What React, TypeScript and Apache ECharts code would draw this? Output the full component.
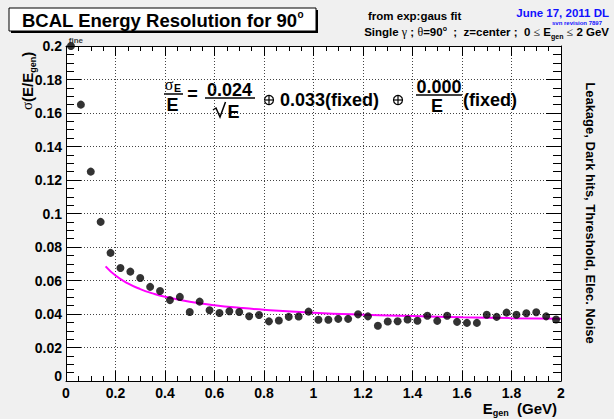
import React, { useEffect, useRef } from 'react';
import * as echarts from 'echarts';

// Generated photon energies (GeV) and the fitted resolution sigma(E/E_gen) at each.
const energies = [
  0.02, 0.06, 0.1, 0.14, 0.18, 0.22, 0.26, 0.3, 0.34, 0.38,
  0.42, 0.46, 0.5, 0.54, 0.58, 0.62, 0.66, 0.7, 0.74, 0.78,
  0.82, 0.86, 0.9, 0.94, 0.98, 1.02, 1.06, 1.1, 1.14, 1.18,
  1.22, 1.26, 1.3, 1.34, 1.38, 1.42, 1.46, 1.5, 1.54, 1.58,
  1.62, 1.66, 1.7, 1.74, 1.78, 1.82, 1.86, 1.9, 1.94, 1.98,
];
const sigmas = [
  0.2, 0.165, 0.125, 0.095, 0.0765, 0.0675, 0.0653, 0.0615, 0.0562, 0.0537,
  0.0483, 0.0502, 0.0412, 0.0474, 0.0422, 0.0406, 0.0416, 0.0412, 0.0387, 0.0394,
  0.0356, 0.0361, 0.0383, 0.0385, 0.0414, 0.0366, 0.0366, 0.0371, 0.0371, 0.0398,
  0.0386, 0.033, 0.0355, 0.0357, 0.0367, 0.036, 0.039, 0.0359, 0.039, 0.0353,
  0.0347, 0.0347, 0.0396, 0.0383, 0.0408, 0.0396, 0.0404, 0.041, 0.0386, 0.0367,
];
// Label attached to the first point.
const firstPointTag = 'fine';

// Fit parameters: sigma/E = a/sqrt(E) (+) b (+) c/E
const fitStochastic = 0.024;
const fitConstant = 0.033;
const fitNoise = 0.0;
const fitEnergies = [0.16, 0.2, 0.25, 0.3, 0.35, 0.4, 0.5, 0.6, 0.7, 0.8, 1.0, 1.2, 1.4, 1.6, 1.8, 2.0];

const SANS = "'Liberation Sans', Arial, Helvetica, sans-serif";
const SYM = "'Liberation Serif', 'DejaVu Serif', serif";

const fitValue = (e: number) =>
  Math.sqrt(
    Math.pow(fitStochastic / Math.sqrt(e), 2) +
      fitConstant * fitConstant +
      Math.pow(fitNoise / e, 2)
  );

let measureCtx: CanvasRenderingContext2D | null = null;
function textWidth(t: string, size: number, bold: boolean, fam: string) {
  if (!measureCtx) measureCtx = document.createElement('canvas').getContext('2d');
  if (!measureCtx) return t.length * size * 0.55;
  measureCtx.font = `${bold ? 'bold ' : ''}${size}px ${fam}`;
  return measureCtx.measureText(t).width;
}

type Seg = { t: string; size: number; bold?: boolean; fam?: string; dy?: number; color?: string };

// Lays out a run of text pieces (sub/superscripts, symbols) along one baseline.
function textRun(segs: Seg[], x: number, y: number, align: 'left' | 'right' | 'center', color = '#000') {
  const widths = segs.map((s) => textWidth(s.t, s.size, s.bold !== false, s.fam || SANS));
  const total = widths.reduce((a, b) => a + b, 0);
  let cx = align === 'left' ? x : align === 'right' ? x - total : x - total / 2;
  return segs.map((s, i) => {
    const el = {
      type: 'text',
      x: cx,
      y: y + (s.dy || 0),
      silent: true,
      style: {
        text: s.t,
        fontSize: s.size,
        fontWeight: s.bold === false ? 'normal' : 'bold',
        fontFamily: s.fam || SANS,
        fill: s.color || color,
        align: 'left',
        verticalAlign: 'middle',
        textAlign: 'left',
        textVerticalAlign: 'middle',
      },
    };
    cx += widths[i];
    return el;
  });
}

function label(
  t: string,
  x: number,
  y: number,
  size: number,
  align = 'center',
  bold = true,
  fam = SANS,
  color = '#000',
  lineHeight?: number
) {
  return {
    type: 'text',
    x,
    y,
    silent: true,
    style: {
      text: t,
      fontSize: size,
      fontWeight: bold ? 'bold' : 'normal',
      fontFamily: fam,
      fill: color,
      align,
      verticalAlign: 'middle',
      textAlign: align,
      textVerticalAlign: 'middle',
      ...(lineHeight ? { lineHeight } : {}),
    },
  };
}

function hline(x1: number, x2: number, y: number, w = 1.5) {
  return { type: 'line', silent: true, shape: { x1, y1: y, x2, y2: y }, style: { stroke: '#000', lineWidth: w } };
}

function oplus(cx: number, cy: number) {
  const r = 4.5;
  return [
    { type: 'circle', silent: true, shape: { cx, cy, r }, style: { fill: 'none', stroke: '#000', lineWidth: 1.2 } },
    { type: 'line', silent: true, shape: { x1: cx - r, y1: cy, x2: cx + r, y2: cy }, style: { stroke: '#000', lineWidth: 1.2 } },
    { type: 'line', silent: true, shape: { x1: cx, y1: cy - r, x2: cx, y2: cy + r }, style: { stroke: '#000', lineWidth: 1.2 } },
  ];
}

export default function App() {
  const ref = useRef<HTMLDivElement>(null);

  useEffect(() => {
    if (!ref.current) return;
    const chart = echarts.init(ref.current, undefined, { renderer: 'svg' });

    const axisLabelFont = { fontFamily: SANS, fontWeight: 'bold' as const, fontSize: 14, color: '#000' };
    const tickLine = { color: '#000', width: 1 };
    const gridLine = { color: '#444', width: 1, type: [1, 2] as number[] };

    const xCommon = {
      type: 'value' as const,
      min: 0,
      max: 2,
      interval: 0.2,
      axisLine: { show: true, onZero: false, lineStyle: tickLine },
      axisTick: { show: true, inside: true, length: 10, lineStyle: tickLine },
      minorTick: { show: true, splitNumber: 4, length: 5, lineStyle: tickLine },
    };
    const yCommon = {
      type: 'value' as const,
      min: 0,
      max: 0.2,
      interval: 0.02,
      axisLine: { show: true, onZero: false, lineStyle: tickLine },
      axisTick: { show: true, inside: true, length: 15, lineStyle: tickLine },
      minorTick: { show: true, splitNumber: 4, length: 8, lineStyle: tickLine },
    };

    const scatterData = energies.map((e, i) => {
      if (i === 0) {
        return {
          value: [e, sigmas[i]],
          label: {
            show: true,
            formatter: firstPointTag,
            position: 'top',
            distance: 0,
            offset: [5, 2],
            fontSize: 8,
            fontWeight: 'bold',
            fontFamily: SANS,
            color: '#000',
          },
        };
      }
      return { value: [e, sigmas[i]] };
    });

    const graphics: any[] = [
      // title pave with shadow
      { type: 'rect', silent: true, shape: { x: 11, y: 10, width: 307, height: 23 }, style: { fill: '#000' } },
      { type: 'rect', silent: true, shape: { x: 9, y: 8, width: 307, height: 23 }, style: { fill: '#fff', stroke: '#000', lineWidth: 1 } },
      ...textRun(
        [
          { t: 'BCAL Energy Resolution for 90', size: 18.5 },
          { t: 'o', size: 10, dy: -6 },
        ],
        22,
        20.5,
        'left'
      ),
      label('from exp:gaus fit', 368, 16, 11.5, 'left'),
      ...textRun(
        [
          { t: 'Single ', size: 11.5 },
          { t: 'γ', size: 12, bold: false, fam: SYM },
          { t: ' ; ', size: 11.5 },
          { t: 'θ', size: 12, bold: false, fam: SYM },
          { t: '=90', size: 11.5 },
          { t: 'o', size: 7, dy: -4 },
          { t: '  ;  z=center ;  0 ', size: 11.5 },
          { t: '≤', size: 12, bold: false, fam: SYM },
          { t: ' E', size: 11.5 },
          { t: 'gen', size: 7, dy: 4 },
          { t: ' ', size: 11.5 },
          { t: '≤', size: 12, bold: false, fam: SYM },
          { t: ' 2 GeV', size: 11.5 },
        ],
        609,
        32,
        'right'
      ),
      label('June 17, 2011 DL', 609, 13, 11.5, 'right', true, SANS, '#1010ff', 11),
      label('svn revision 7897', 602, 22.5, 6, 'right', true, SANS, '#1010ff', 6),

      // fit formula
      label('σ', 169, 84, 16, 'center', false, SYM, '#000', 12),
      label('E', 177.5, 88, 10.5, 'center', true, SANS, '#000', 9),
      hline(164, 183, 94),
      label('E', 172.5, 104.5, 18, 'center', true, SANS, '#000', 15),
      label('=', 192.5, 93.5, 18, 'center'),
      label('0.024', 229.5, 90, 18, 'center', true, SANS, '#000', 14),
      hline(205, 255, 98),
      {
        type: 'polyline',
        silent: true,
        shape: { points: [[213, 110], [216, 108], [220, 117], [225.5, 102]] },
        style: { stroke: '#000', lineWidth: 1.5, fill: 'none' },
      },
      label('E', 233.5, 111.5, 18, 'center', true, SANS, '#000', 15),
      ...oplus(269, 100),
      label('0.033(fixed)', 280, 100, 18, 'left'),
      ...oplus(398, 100),
      label('0.000', 439, 87, 18, 'center', true, SANS, '#000', 14),
      hline(416, 462, 95),
      label('E', 437, 106, 18, 'center', true, SANS, '#000', 15),
      label('(fixed)', 463, 100, 18, 'left'),

      // y-axis title, reading upward
      {
        type: 'group',
        x: 27,
        y: 110,
        rotation: Math.PI / 2,
        children: textRun(
          [
            { t: 'σ', size: 15, bold: false, fam: SYM },
            { t: '(E/E', size: 15 },
            { t: 'gen', size: 9, dy: 6 },
            { t: ')', size: 15 },
          ],
          0,
          0,
          'left'
        ),
      },
      // side note, reading downward
      {
        type: 'text',
        x: 590,
        y: 213,
        rotation: -Math.PI / 2,
        silent: true,
        style: {
          text: 'Leakage, Dark hits, Threshold, Elec. Noise',
          fontSize: 13,
          fontWeight: 'bold',
          fontFamily: SANS,
          fill: '#000',
          align: 'center',
          verticalAlign: 'middle',
          textAlign: 'center',
          textVerticalAlign: 'middle',
        },
      },
      // x-axis title
      ...textRun(
        [
          { t: 'E', size: 15 },
          { t: 'gen', size: 9, dy: 5 },
          { t: '  (GeV)', size: 15 },
        ],
        557,
        408,
        'right'
      ),
    ];

    chart.setOption({
      animation: false,
      backgroundColor: '#f0f0f0',
      grid: {
        left: 66,
        right: 53,
        top: 46,
        bottom: 38,
        show: true,
        backgroundColor: '#ffffff',
        borderWidth: 0,
      },
      xAxis: [
        {
          ...xCommon,
          position: 'bottom',
          splitLine: { show: true, lineStyle: gridLine },
          axisLabel: {
            ...axisLabelFont,
            margin: 5,
            formatter: (v: number) => String(+v.toFixed(1)),
          },
        },
        {
          ...xCommon,
          position: 'top',
          splitLine: { show: false },
          axisLabel: { show: false },
        },
      ],
      yAxis: [
        {
          ...yCommon,
          position: 'left',
          splitLine: { show: true, lineStyle: gridLine },
          axisLabel: {
            ...axisLabelFont,
            margin: 4,
            formatter: (v: number) => (v === 0 ? '{z|0}' : String(+v.toFixed(2))),
            rich: {
              z: { fontFamily: SANS, fontWeight: 'bold', fontSize: 14, color: '#000', padding: [0, 0, 10, 0] },
            },
          },
        },
        {
          ...yCommon,
          position: 'right',
          splitLine: { show: false },
          axisLabel: { show: false },
        },
      ],
      series: [
        {
          type: 'line',
          data: fitEnergies.map((e) => [e, fitValue(e)]),
          smooth: true,
          symbol: 'none',
          lineStyle: { color: '#ff00ff', width: 2 },
          z: 2,
          silent: true,
        },
        {
          type: 'scatter',
          data: scatterData,
          symbol: 'circle',
          symbolSize: 8,
          itemStyle: { color: '#000' },
          clip: false,
          z: 3,
          silent: true,
        },
      ],
      graphic: graphics,
    });

    return () => chart.dispose();
  }, []);

  return (
    <div
      ref={ref}
      style={{ position: 'fixed', left: 0, top: 0, width: 614, height: 419, background: '#f0f0f0' }}
    />
  );
}
